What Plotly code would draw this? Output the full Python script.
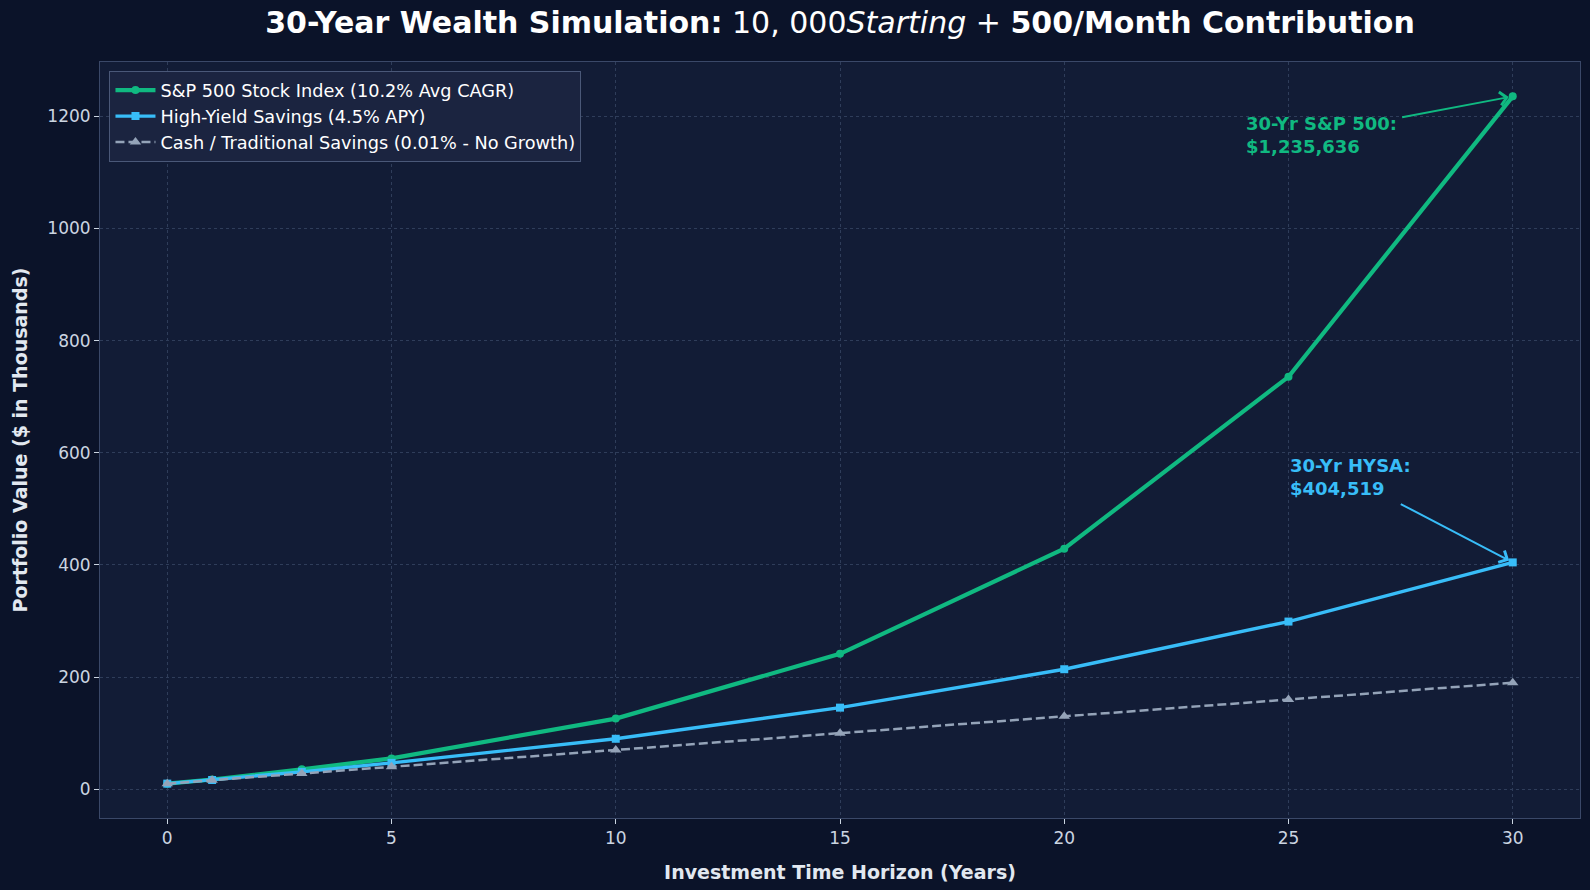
import plotly.graph_objects as go

years = [0, 1, 3, 5, 10, 15, 20, 25, 30]
sp500 = [10.0, 17.3, 35.5, 55.0, 126.0, 241.5, 429.0, 735.5, 1235.636]
hysa = [10.0, 16.5, 31.0, 47.0, 90.0, 145.5, 214.0, 299.0, 404.519]
cash = [10.0, 16.0, 28.0, 40.0, 70.0, 100.0, 130.0, 160.0, 190.0]

names = [
    "S&P 500 Stock Index (10.2% Avg CAGR)",
    "High-Yield Savings (4.5% APY)",
    "Cash / Traditional Savings (0.01% - No Growth)",
]
GREEN = "#10b981"
BLUE = "#38bdf8"
GRAY = "#94a3b8"

FONT = "DejaVu Sans"

fig = go.Figure()
fig.add_trace(go.Scatter(x=years, y=sp500, name=names[0], mode="lines+markers",
                         line=dict(color=GREEN, width=4.2),
                         marker=dict(symbol="circle", size=8, color=GREEN)))
fig.add_trace(go.Scatter(x=years, y=hysa, name=names[1], mode="lines+markers",
                         line=dict(color=BLUE, width=3.4),
                         marker=dict(symbol="square", size=8, color=BLUE)))
fig.add_trace(go.Scatter(x=years, y=cash, name=names[2], mode="lines+markers",
                         line=dict(color=GRAY, width=2.5, dash="9px,4px"),
                         marker=dict(symbol="triangle-up", size=10, color=GRAY)))

# annotations: text + separate arrows
fig.add_annotation(x=24.0, y=1167, xref="x", yref="y", text="30-Yr S&P 500:<br>$1,235,636",
                   showarrow=False, xanchor="left", yanchor="middle", align="left",
                   font=dict(family=FONT, size=18, color=GREEN, weight="bold"))
fig.add_annotation(x=years[-1], y=sp500[-1], ax=27.5, ay=1198, xref="x", yref="y",
                   axref="x", ayref="y", text="", showarrow=True, arrowhead=4,
                   arrowsize=1.3, arrowwidth=2, arrowcolor=GREEN, standoff=4)
fig.add_annotation(x=25.0, y=556, xref="x", yref="y", text="30-Yr HYSA:<br>$404,519",
                   showarrow=False, xanchor="left", yanchor="middle", align="left",
                   font=dict(family=FONT, size=18, color=BLUE, weight="bold"))
fig.add_annotation(x=years[-1], y=hysa[-1], ax=27.47, ay=510, xref="x", yref="y",
                   axref="x", ayref="y", text="", showarrow=True, arrowhead=4,
                   arrowsize=1.3, arrowwidth=2, arrowcolor=BLUE, standoff=4)

axis_common = dict(
    showgrid=True, gridcolor="#2f3d5a", griddash="dot", gridwidth=1,
    showline=True, linecolor="#3a4868", linewidth=1, mirror=True,
    ticks="outside", ticklen=5, tickcolor="#cbd5e1", tickwidth=1,
    tickfont=dict(family=FONT, size=17, color="#cbd5e1"),
    zeroline=False,
)

fig.update_layout(
    width=1590, height=890,
    paper_bgcolor="#0b1329", plot_bgcolor="#121c36",
    margin=dict(l=100, r=10, t=62, b=72),
    title=dict(
        text="<b>30-Year Wealth Simulation:</b> 10, 000<i>Starting</i> + <b>500/Month Contribution</b>",
        x=0.5, xref="paper", xanchor="center", y=0.975, yref="container", yanchor="middle",
        font=dict(family=FONT, size=30, color="#ffffff"),
    ),
    xaxis=dict(axis_common, range=[-1.5, 31.5], tickvals=[0, 5, 10, 15, 20, 25, 30],
               title=dict(text="<b>Investment Time Horizon (Years)</b>", standoff=18,
                          font=dict(family=FONT, size=19, color="#e2e8f0"))),
    yaxis=dict(axis_common, range=[-51.3, 1296.9], tickvals=[0, 200, 400, 600, 800, 1000, 1200],
               title=dict(text="<b>Portfolio Value ($ in Thousands)</b>", standoff=14,
                          font=dict(family=FONT, size=19, color="#e2e8f0"))),
    legend=dict(x=0.0064, y=0.988, xanchor="left", yanchor="top",
                bgcolor="#1b2440", bordercolor="#4a5878", borderwidth=1,
                font=dict(family=FONT, size=17.7, color="#ffffff"),
                tracegroupgap=2, itemwidth=40),
    showlegend=True,
)

fig.write_html("out.html", config={"displayModeBar": False},
               post_script="document.body.style.margin='0';document.body.style.overflow='hidden';")
